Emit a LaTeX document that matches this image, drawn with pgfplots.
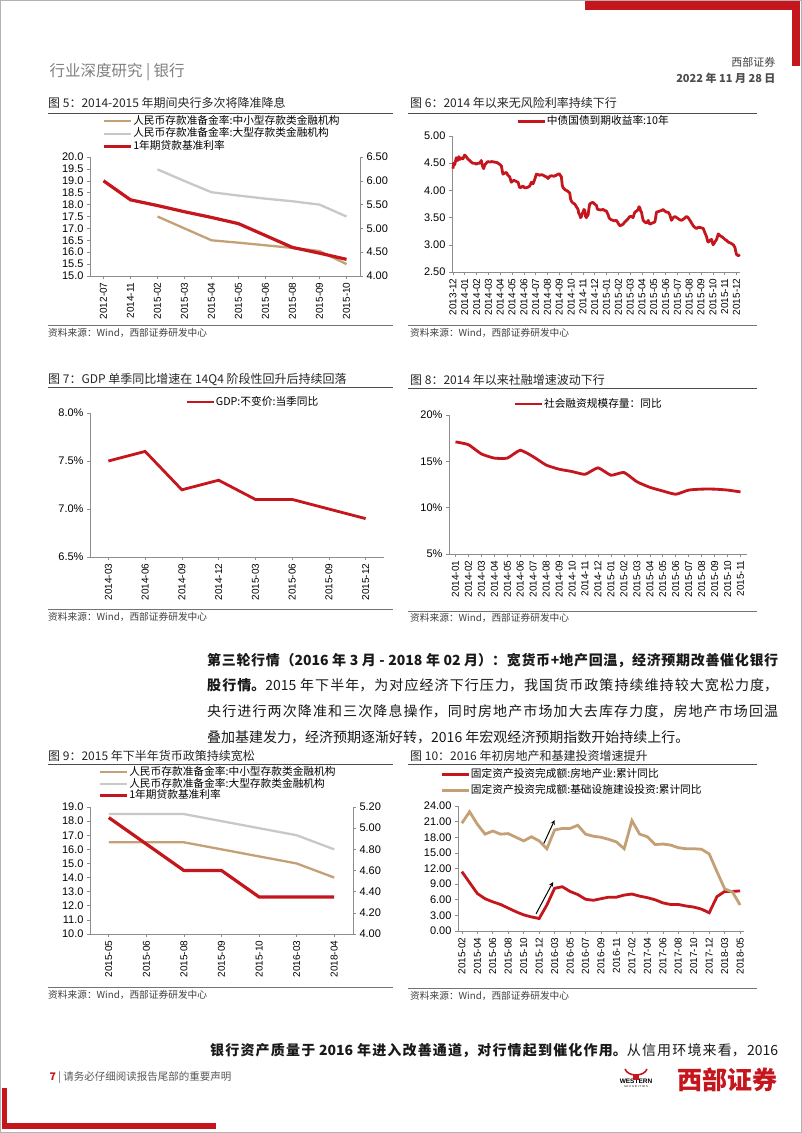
\documentclass[border=0pt]{standalone}
\usepackage{fontspec}
\usepackage{pgfplots}
\pgfplotsset{compat=1.18}
\setmainfont{Noto Sans CJK SC}
\newfontfamily\arial{Liberation Sans}

\definecolor{wred}{RGB}{196,22,28}
\definecolor{wtan}{RGB}{196,160,118}
\definecolor{wgray}{RGB}{200,200,200}
\definecolor{axgray}{RGB}{140,140,140}

\newcommand\tickfont{\arial\fontsize{10}{10}\selectfont}
\newcommand\ytickfont{\arial\fontsize{11}{11}\selectfont}
\newcommand\legfont{\fontsize{10.7}{10.7}\selectfont}

\pgfplotsset{
  legend image code/.code={\draw[#1] (0pt,0pt) -- (27pt,0pt);},
  base/.style={
    scale only axis, clip=false,
    axis line style={draw=axgray, line width=0.6pt},
    tick style={draw=axgray, line width=0.6pt},
    tick align=outside, major tick length=3pt,
    tick label style={font=\tickfont, text=black},
    yticklabel style={font=\ytickfont},
    /pgf/number format/assume math mode=true,
    xticklabel style={rotate=90, anchor=east},
    legend style={draw=none, fill=none, font=\legfont, inner sep=0pt, row sep=0pt,
      nodes={inner sep=1pt, text height=8.5pt, text depth=2pt}},
    legend cell align=left,
  },
  leftax/.style={base, axis x line*=bottom, axis y line*=left},
  rightax/.style={base, axis x line=none, axis y line*=right},
}

\begin{document}
\begin{tikzpicture}[x=1pt,y=-1pt]
\fill[white] (0,0) rectangle (802,1133);
\path[use as bounding box] (0,0) rectangle (802,1133);
\draw[gray!60, line width=0.8pt] (0.5,0.5) rectangle (801.5,1132.5);

% page decoration
\fill[wred] (585,1) rectangle (797,10);
\fill[wred] (792,1) rectangle (800,66);
\fill[wred] (2,1088) rectangle (7,1129);
\fill[wred] (2,1123) rectangle (216,1129);

\node[anchor=west, text=black!50, font=\fontsize{15.5}{15.5}\selectfont] at (46,72) {行业深度研究 | 银行};
\node[anchor=east, text=black!75, font=\fontsize{11}{11}\selectfont] at (779,62) {西部证券};
\node[anchor=east, text=black!70, font=\fontsize{11}{11}\selectfont\bfseries] at (779,78) {2022 年 11 月 28 日};

% titles, rules and sources
\foreach \tx/\ty/\t in {48/103/{图 5：2014-2015 年期间央行多次将降准降息},
                       410/103/{图 6：2014 年以来无风险利率持续下行},
                       48/380/{图 7：GDP 单季同比增速在 14Q4 阶段性回升后持续回落},
                       410/380/{图 8：2014 年以来社融增速波动下行},
                       48/756/{图 9：2015 年下半年货币政策持续宽松},
                       410/756/{图 10：2016 年初房地产和基建投资增速提升}}
  \node[anchor=west, inner sep=0pt, text=black!85, font=\fontsize{12}{12}\selectfont] at (\tx,\ty) {\t};
\draw[black!70, line width=0.8pt] (48,113) -- (393,113) (408,113) -- (757,113)
  (48,387) -- (393,387) (408,388) -- (757,388)
  (48,764) -- (393,764) (408,764) -- (757,764);
\draw[black!55, line width=0.8pt] (48,325) -- (393,325) (408,325) -- (757,325)
  (48,609) -- (393,609) (408,611) -- (757,611)
  (48,987) -- (393,987) (408,988) -- (757,988);
\foreach \sx/\sy in {48/333, 410/333, 48/617, 410/618, 48/995, 410/996}
  \node[anchor=west, inner sep=0pt, text=black!75, font=\fontsize{9.7}{9.7}\selectfont] at (\sx,\sy) {资料来源：Wind，西部证券研发中心};

% ---------- chart 5 ----------
\begin{axis}[leftax, at={(90pt,-276pt)}, anchor=south west, width=270pt, height=119pt,
  xmin=-0.5, xmax=9.5, ymin=15, ymax=20,
  xtick={0,...,9},
  xticklabels={2012-07,2014-11,2015-02,2015-03,2015-04,2015-05,2015-06,2015-08,2015-09,2015-10},
  ytick={15,15.5,16,16.5,17,17.5,18,18.5,19,19.5,20},
  yticklabels={15.0,15.5,16.0,16.5,17.0,17.5,18.0,18.5,19.0,19.5,20.0}]
\addplot[wtan, line width=2.3pt] coordinates {(2,17.5)(3,17.0)(4,16.5)(5,16.4)(6,16.29)(7,16.18)(8,16.05)(9,15.5)};
\addplot[wgray, line width=2.3pt] coordinates {(2,19.48)(3,18.99)(4,18.52)(5,18.38)(6,18.25)(7,18.14)(8,18.0)(9,17.5)};
\end{axis}
\begin{axis}[rightax, at={(90pt,-276pt)}, anchor=south west, width=270pt, height=119pt,
  xmin=-0.5, xmax=9.5, ymin=4, ymax=6.5,
  ytick={4,4.5,5,5.5,6,6.5}, yticklabels={4.00,4.50,5.00,5.50,6.00,6.50},
  legend style={at={(0.044,1.355)}, anchor=north west}]
\addlegendimage{wtan, line width=2.3pt}
\addlegendentry{人民币存款准备金率:中小型存款类金融机构}
\addlegendimage{wgray, line width=2.3pt}
\addlegendentry{人民币存款准备金率:大型存款类金融机构}
\addplot[wred, line width=3.2pt] coordinates {(0,6.00)(1,5.60)(2,5.48)(3,5.35)(4,5.23)(5,5.10)(6,4.85)(7,4.60)(8,4.48)(9,4.35)};
\addlegendentry{1年期贷款基准利率}
\end{axis}

% ---------- chart 6 ----------
\begin{axis}[leftax, at={(452pt,-272pt)}, anchor=south west, width=288pt, height=136pt,
  xmin=-0.08, xmax=24.3, ymin=2.5, ymax=5,
  xtick={0,...,24},
  xticklabels={2013-12,2014-01,2014-02,2014-03,2014-04,2014-05,2014-06,2014-07,2014-08,2014-09,2014-10,2014-11,2014-12,2015-01,2015-02,2015-03,2015-04,2015-05,2015-06,2015-07,2015-08,2015-09,2015-10,2015-11,2015-12},
  ytick={2.5,3,3.5,4,4.5,5}, yticklabels={2.50,3.00,3.50,4.00,4.50,5.00},
  legend style={at={(0.222,1.105)}, anchor=west}]
\addplot[wred, line width=2.8pt, line join=round] coordinates {
(0.00,4.40)(0.06,4.50)(0.15,4.47)(0.28,4.60)(0.40,4.55)(0.50,4.62)(0.60,4.57)(0.71,4.60)(0.85,4.58)(0.99,4.65)
(1.13,4.62)(1.25,4.58)(1.41,4.55)(1.55,4.52)(1.69,4.50)(1.85,4.50)(1.98,4.48)(2.10,4.50)(2.26,4.50)(2.40,4.55)
(2.50,4.45)(2.60,4.40)(2.70,4.47)(2.82,4.50)(2.95,4.53)(3.11,4.52)(3.30,4.53)(3.53,4.52)(3.75,4.51)(3.95,4.48)
(4.10,4.45)(4.20,4.33)(4.24,4.30)(4.40,4.32)(4.52,4.33)(4.65,4.28)(4.80,4.25)(4.94,4.15)(5.10,4.18)(5.23,4.18)
(5.40,4.16)(5.51,4.15)(5.65,4.05)(5.80,4.06)(5.93,4.08)(6.05,4.05)(6.21,4.05)(6.35,4.06)(6.50,4.08)(6.64,4.15)
(6.78,4.12)(6.92,4.20)(7.06,4.30)(7.20,4.29)(7.34,4.28)(7.50,4.29)(7.63,4.28)(7.78,4.26)(7.91,4.25)(8.05,4.22)
(8.20,4.26)(8.33,4.27)(8.55,4.26)(8.76,4.28)(8.90,4.30)(9.04,4.30)(9.10,4.27)(9.18,4.25)(9.25,4.10)(9.32,4.05)
(9.45,4.02)(9.60,4.00)(9.75,3.98)(9.89,3.95)(9.95,3.85)(10.03,3.80)(10.15,3.77)(10.31,3.75)(10.45,3.70)(10.59,3.65)
(10.65,3.58)(10.73,3.55)(10.80,3.50)(10.88,3.52)(10.95,3.58)(11.02,3.60)(11.09,3.65)(11.16,3.63)(11.23,3.52)(11.30,3.50)
(11.37,3.53)(11.44,3.55)(11.52,3.68)(11.58,3.75)(11.72,3.77)(11.86,3.78)(12.00,3.75)(12.15,3.72)(12.22,3.66)(12.29,3.65)
(12.50,3.64)(12.71,3.65)(12.85,3.63)(12.99,3.62)(13.07,3.58)(13.14,3.55)(13.21,3.50)(13.28,3.48)(13.40,3.46)(13.56,3.45)
(13.70,3.44)(13.84,3.45)(13.98,3.40)(14.12,3.35)(14.26,3.36)(14.41,3.38)(14.55,3.42)(14.69,3.45)(14.83,3.48)(14.97,3.52)
(15.11,3.52)(15.25,3.50)(15.33,3.56)(15.40,3.60)(15.54,3.62)(15.68,3.65)(15.75,3.70)(15.82,3.68)(15.89,3.62)(15.96,3.60)
(16.03,3.52)(16.10,3.45)(16.24,3.42)(16.38,3.40)(16.46,3.42)(16.53,3.45)(16.60,3.40)(16.67,3.38)(16.88,3.40)(17.09,3.42)
(17.16,3.50)(17.23,3.60)(17.37,3.61)(17.51,3.62)(17.65,3.63)(17.80,3.65)(17.87,3.63)(17.94,3.62)(18.08,3.60)(18.22,3.60)
(18.36,3.55)(18.50,3.45)(18.65,3.50)(18.79,3.52)(18.93,3.50)(19.07,3.48)(19.21,3.46)(19.35,3.45)(19.56,3.48)(19.77,3.52)
(19.91,3.50)(20.06,3.45)(20.20,3.40)(20.34,3.35)(20.48,3.32)(20.62,3.30)(20.76,3.32)(20.90,3.32)(21.05,3.31)(21.19,3.30)
(21.33,3.22)(21.47,3.15)(21.54,3.08)(21.61,3.05)(21.75,3.08)(21.89,3.10)(21.96,3.04)(22.03,3.00)(22.17,3.05)(22.32,3.10)
(22.39,3.15)(22.46,3.20)(22.60,3.17)(22.74,3.15)(22.88,3.13)(23.02,3.10)(23.16,3.08)(23.31,3.05)(23.52,3.03)(23.73,3.00)
(23.80,2.98)(23.87,2.95)(23.94,2.88)(24.01,2.82)(24.15,2.80)(24.29,2.82)};
\addlegendentry{中债国债到期收益率:10年}
\end{axis}

% ---------- chart 7 ----------
\begin{axis}[leftax, at={(90pt,-557pt)}, anchor=south west, width=294pt, height=144pt,
  xmin=-0.5, xmax=7.5, ymin=6.5, ymax=8,
  xtick={0,...,7},
  xticklabels={2014-03,2014-06,2014-09,2014-12,2015-03,2015-06,2015-09,2015-12},
  ytick={6.5,7,7.5,8}, yticklabels={6.5\%,7.0\%,7.5\%,8.0\%},
  legend style={at={(0.323,1.076)}, anchor=west}]
\addplot[wred, line width=2.8pt] coordinates {(0,7.5)(1,7.6)(2,7.2)(3,7.3)(4,7.1)(5,7.1)(6,7.0)(7,6.9)};
\addlegendentry{GDP:不变价:当季同比}
\end{axis}

% ---------- chart 8 ----------
\begin{axis}[leftax, at={(449pt,-554pt)}, anchor=south west, width=298pt, height=139pt,
  xmin=-0.5, xmax=22.5, ymin=5, ymax=20,
  xtick={0,...,22},
  xticklabels={2014-01,2014-02,2014-03,2014-04,2014-05,2014-06,2014-07,2014-08,2014-09,2014-10,2014-11,2014-12,2015-01,2015-02,2015-03,2015-04,2015-05,2015-06,2015-07,2015-08,2015-09,2015-10,2015-11},
  ytick={5,10,15,20}, yticklabels={5\%,10\%,15\%,20\%},
  legend style={at={(0.215,1.079)}, anchor=west}]
\addplot[wred, line width=2.8pt, smooth, tension=0.3] coordinates {(0,17.1)(1,16.8)(2,15.8)(3,15.35)(4,15.35)(5,16.2)(6,15.5)(7,14.6)(8,14.15)(9,13.9)(10,13.6)(11,14.3)(12,13.5)(13,13.8)(14,12.8)(15,12.2)(16,11.8)(17,11.45)(18,11.9)(19,12.0)(20,12.0)(21,11.9)(22,11.7)};
\addlegendentry{社会融资规模存量：同比}
\end{axis}

% text block
\node[anchor=base west, inner sep=0pt, text=black!90] at (207,665) {\parbox[t]{571pt}{\fontsize{14}{25.7}\selectfont\XeTeXlinebreaklocale "zh"\XeTeXlinebreakskip=0pt plus 3pt\relax
\textbf{第三轮行情（2016 年 3 月 - 2018 年 02 月）：宽货币+地产回温，经济预期改善催化银行\linebreak 股行情。}2015 年下半年，为对应经济下行压力，我国货币政策持续维持较大宽松力度，\linebreak 央行进行两次降准和三次降息操作，同时房地产市场加大去库存力度，房地产市场回温\linebreak 叠加基建发力，经济预期逐渐好转，2016 年宏观经济预期指数开始持续上行。}};

% ---------- chart 9 ----------
\begin{axis}[leftax, at={(90pt,-934pt)}, anchor=south west, width=263pt, height=127pt,
  xmin=-0.5, xmax=6.5, ymin=10, ymax=19,
  xtick={0,...,6},
  xticklabels={2015-05,2015-06,2015-08,2015-09,2015-10,2016-03,2018-04},
  ytick={10,...,19}, yticklabels={10.0,11.0,12.0,13.0,14.0,15.0,16.0,17.0,18.0,19.0}]
\addplot[wtan, line width=2.3pt] coordinates {(0,16.5)(1,16.5)(2,16.5)(3,16.0)(4,15.5)(5,15.0)(6,14.0)};
\addplot[wgray, line width=2.3pt] coordinates {(0,18.5)(1,18.5)(2,18.5)(3,18.0)(4,17.5)(5,17.0)(6,16.0)};
\end{axis}
\begin{axis}[rightax, at={(90pt,-934pt)}, anchor=south west, width=263pt, height=127pt,
  xmin=-0.5, xmax=6.5, ymin=4, ymax=5.2,
  ytick={4,4.2,4.4,4.6,4.8,5,5.2}, yticklabels={4.00,4.20,4.40,4.60,4.80,5.00,5.20},
  legend style={at={(0.03,1.32)}, anchor=north west, nodes={text height=8pt, text depth=1.5pt}}]
\addlegendimage{wtan, line width=2.3pt}
\addlegendentry{人民币存款准备金率:中小型存款类金融机构}
\addlegendimage{wgray, line width=2.3pt}
\addlegendentry{人民币存款准备金率:大型存款类金融机构}
\addplot[wred, line width=3.2pt] coordinates {(0,5.10)(1,4.85)(2,4.60)(3,4.60)(4,4.35)(5,4.35)(6,4.35)};
\addlegendentry{1年期贷款基准利率}
\end{axis}

% ---------- chart 10 ----------
\begin{axis}[leftax, at={(458pt,-931pt)}, anchor=south west, width=286pt, height=125pt,
  xmin=-0.5, xmax=36.5, ymin=0, ymax=24,
  xtick={0,2,...,36},
  xticklabels={2015-02,2015-04,2015-06,2015-08,2015-10,2015-12,2016-03,2016-05,2016-07,2016-09,2016-11,2017-02,2017-04,2017-06,2017-08,2017-10,2017-12,2018-03,2018-05},
  ytick={0,3,...,24}, yticklabels={0.00,3.00,6.00,9.00,12.00,15.00,18.00,21.00,24.00},
  legend style={at={(-0.063,1.32)}, anchor=north west, nodes={text height=10pt, text depth=4pt}}]
\addplot[wred, line width=2.8pt] coordinates {(0,11.4)(1,9.3)(2,7.2)(3,6.2)(4,5.6)(5,5.1)(6,4.4)(7,3.7)(8,3.1)(9,2.7)(10,2.4)(11,5.0)(12,8.2)(13,8.5)(14,7.6)(15,7.0)(16,6.1)(17,5.9)(18,6.2)(19,6.5)(20,6.5)(21,6.9)(22,7.1)(23,6.7)(24,6.4)(25,6.0)(26,5.4)(27,5.1)(28,5.1)(29,4.8)(30,4.6)(31,4.2)(32,3.5)(33,6.6)(34,7.6)(35,7.6)(36,7.7)};
\addlegendentry{固定资产投资完成额:房地产业:累计同比}
\addplot[wtan, line width=2.8pt] coordinates {(0,20.7)(1,22.9)(2,20.5)(3,18.6)(4,19.2)(5,18.6)(6,18.7)(7,18.0)(8,17.3)(9,18.1)(10,17.3)(11,15.8)(12,19.4)(13,19.7)(14,19.7)(15,20.3)(16,18.6)(17,18.2)(18,18.0)(19,17.6)(20,17.1)(21,15.8)(22,21.2)(23,18.6)(24,18.1)(25,16.6)(26,16.7)(27,16.5)(28,16.0)(29,15.8)(30,15.8)(31,15.7)(32,14.8)(33,11.4)(34,8.1)(35,7.5)(36,5.0)};
\addlegendentry{固定资产投资完成额:基础设施建设投资:累计同比}
\draw[-stealth, black, line width=1pt] (axis cs:10.6,16.8) -- (axis cs:12.0,21.3);
\draw[-stealth, black, line width=1pt] (axis cs:9.6,3.3) -- (axis cs:11.8,9.4);
\end{axis}

% bottom text
\node[anchor=base west, inner sep=0pt, text=black!90] at (210,1055) {\parbox[t]{568pt}{\fontsize{14}{14}\selectfont\XeTeXlinebreaklocale "zh"\XeTeXlinebreakskip=0pt plus 3pt\parfillskip=0pt\relax\textbf{银行资产质量于 2016 年进入改善通道，对行情起到催化作用。}从信用环境来看，2016}};

% footer
\node[anchor=west, font=\fontsize{10.5}{10.5}\selectfont] at (46,1078) {\textcolor{wred}{\textbf{7}} \textcolor{black!65}{| 请务必仔细阅读报告尾部的重要声明}};
\node[anchor=east, text=wred, font=\fontsize{25}{25}\selectfont\bfseries] at (781,1080) {西部证券};
\node[font=\arial\bfseries\fontsize{6.5}{6.5}\selectfont] at (636,1081) {WESTERN};
\node[font=\arial\fontsize{2.8}{3}\selectfont] at (636,1087) {S E C U R I T I E S};
\draw[wred, line width=1.6pt] (625,1069) .. controls (628,1077) and (644,1077) .. (647,1069);
\fill[wred] (633,1074) rectangle (639,1080);
\end{tikzpicture}
\end{document}
